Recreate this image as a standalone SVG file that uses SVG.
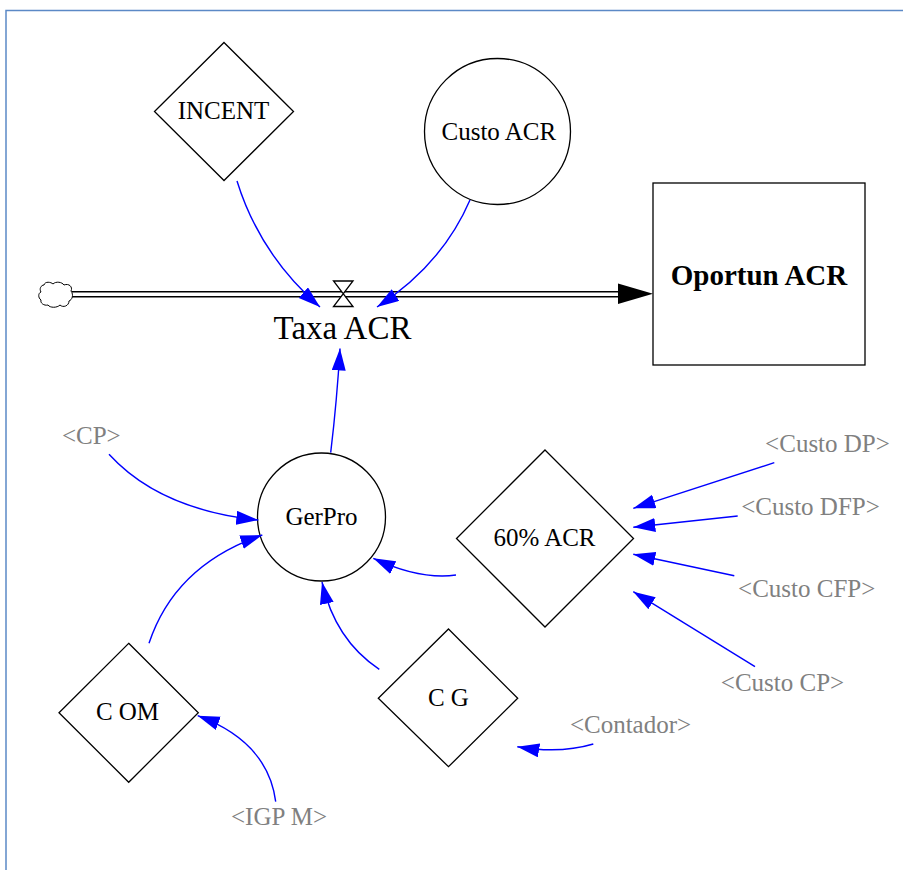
<svg xmlns="http://www.w3.org/2000/svg" width="903" height="870" viewBox="0 0 903 870">
<style>
text{font-family:"Liberation Serif","Times New Roman",serif;text-anchor:middle;}
.lbl{font-size:25px;fill:#000;}
.ghost{font-size:25px;fill:#808080;}
.shape{fill:#fff;stroke:#000;stroke-width:1.3;}
.link{fill:none;stroke:#0000ff;stroke-width:1.4;marker-end:url(#ah);}
</style>
<defs>
<marker id="ah" markerUnits="userSpaceOnUse" markerWidth="23" markerHeight="15" refX="22" refY="7" orient="auto">
<path d="M0,0 L22,7 L0,14 Z" fill="#0000ff"/>
</marker>
</defs>
<rect width="903" height="870" fill="#fff"/>
<path d="M6,870 V10.5 H903" fill="none" stroke="#5b89c6" stroke-width="1.5"/>

<g id="flow-pipe">
<line x1="72" y1="294.2" x2="620" y2="294.2" stroke="#000" stroke-width="6.6"/>
<line x1="71" y1="294.2" x2="621" y2="294.2" stroke="#fff" stroke-width="3.6"/>
<path d="M618,283.5 L653,293.7 L618,304 Z" fill="#000"/>
</g>

<g id="cloud-source">
<path d="M44,285 C45,281 51,282 53,284 C56,281 62,282 64,285 C69,283 73,287 71,291 C74,295 72,300 69,301 C69,306 63,308 60,305 C57,308 50,308 48,305 C44,306 40,303 41,300 C38,298 38,293 41,292 C39,289 41,285 44,285 Z" fill="#fff" stroke="#000" stroke-width="1"/>
</g>

<g id="Taxa-ACR">
<path d="M333.5,281 H353 L333.5,306.5 H353 Z" fill="#fff" stroke="#000" stroke-width="1.3"/>
<text x="342.5" y="339" style="font-size:33px">Taxa ACR</text>
</g>

<g id="Oportun-ACR">
<rect x="653" y="183" width="212" height="182" class="shape"/>
<text x="759" y="285" style="font-size:29px;font-weight:bold">Oportun ACR</text>
</g>

<g id="INCENT">
<path d="M224,42.5 L293.5,111.5 L224,180.5 L154.5,111.5 Z" class="shape"/>
<text x="223.5" y="119.3" class="lbl">INCENT</text>
</g>

<g id="Custo-ACR">
<circle cx="497.5" cy="131.5" r="73" class="shape"/>
<text x="498.8" y="140" class="lbl">Custo ACR</text>
</g>

<g id="GerPro">
<circle cx="321.5" cy="517" r="64" class="shape"/>
<text x="321.5" y="525" class="lbl">GerPro</text>
</g>

<g id="ACR60">
<path d="M545,450 L633.5,538.5 L545,627 L456.5,538.5 Z" class="shape"/>
<text x="544.5" y="546" class="lbl">60% ACR</text>
</g>

<g id="C-OM">
<path d="M128.7,643.3 L198.3,712.7 L128.7,782.3 L59,712.7 Z" class="shape"/>
<text x="127.5" y="720" class="lbl">C OM</text>
</g>

<g id="C-G">
<path d="M448.5,629 L517.7,698.3 L448.5,766.7 L378.3,698.3 Z" class="shape"/>
<text x="448.4" y="706" class="lbl">C G</text>
</g>

<g id="CP"><text x="91.3" y="444" class="ghost">&lt;CP&gt;</text></g>
<g id="Custo-DP"><text x="827.5" y="452" class="ghost">&lt;Custo DP&gt;</text></g>
<g id="Custo-DFP"><text x="810.5" y="515" class="ghost">&lt;Custo DFP&gt;</text></g>
<g id="Custo-CFP"><text x="806.7" y="597" class="ghost">&lt;Custo CFP&gt;</text></g>
<g id="Custo-CP"><text x="782.5" y="691" class="ghost">&lt;Custo CP&gt;</text></g>
<g id="IGP-M"><text x="279" y="825" class="ghost">&lt;IGP M&gt;</text></g>
<g id="Contador"><text x="630.5" y="733" class="ghost">&lt;Contador&gt;</text></g>

<g id="connectors">
<path class="link" d="M237,181 Q260,255 320,307"/>
<path class="link" d="M470,200 Q442,265 377,307"/>
<path class="link" d="M330.7,452.7 Q337,400 340,348.5"/>
<path class="link" d="M109,454.3 Q160,510 258.3,520"/>
<path class="link" d="M149,643.3 Q175,565 262.3,535"/>
<path class="link" d="M379.3,669.3 Q335,640 322,582"/>
<path class="link" d="M456,575 Q420,580 373.3,558.3"/>
<path class="link" d="M774.3,462.7 L633.3,508.3"/>
<path class="link" d="M737.7,516 L633.3,527.3"/>
<path class="link" d="M734.3,575.7 L633.3,554.3"/>
<path class="link" d="M755,666.7 L633.3,591.7"/>
<path class="link" d="M275.7,801.7 Q268,742 197.7,715.7"/>
<path class="link" d="M593.3,744 Q560,754 517.3,746.7"/>
</g>
</svg>
